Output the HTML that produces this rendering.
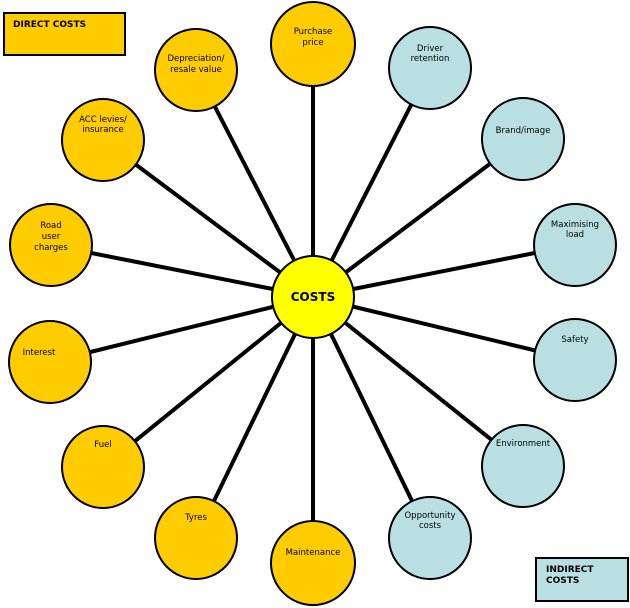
<!DOCTYPE html>
<html><head><style>body{margin:0;background:#fff}svg{display:block}</style></head><body>
<svg width="630" height="608" viewBox="0 0 630 608" xmlns="http://www.w3.org/2000/svg" font-family="DejaVu Sans, Liberation Sans, sans-serif" font-size="8.5">
<g stroke="#000" stroke-width="4">
<line x1="313" y1="297" x2="313" y2="44"/>
<line x1="313" y1="297" x2="196" y2="70"/>
<line x1="313" y1="297" x2="430" y2="68"/>
<line x1="313" y1="297" x2="103" y2="140"/>
<line x1="313" y1="297" x2="523" y2="139"/>
<line x1="313" y1="297" x2="51" y2="245"/>
<line x1="313" y1="297" x2="575" y2="245"/>
<line x1="313" y1="297" x2="50" y2="362"/>
<line x1="313" y1="297" x2="575" y2="360"/>
<line x1="313" y1="297" x2="103" y2="467"/>
<line x1="313" y1="297" x2="523" y2="465"/>
<line x1="313" y1="297" x2="196" y2="538"/>
<line x1="313" y1="297" x2="430" y2="538"/>
<line x1="313" y1="297" x2="313" y2="563"/>
</g>
<g stroke="#000" stroke-width="2" fill="#FFCC00">
<circle cx="313" cy="44" r="42"/>
<circle cx="196" cy="70" r="41"/>
<circle cx="103" cy="140" r="41"/>
<circle cx="51" cy="245" r="41"/>
<circle cx="50" cy="362" r="41"/>
<circle cx="103" cy="467" r="41"/>
<circle cx="196" cy="538" r="41"/>
<circle cx="313" cy="563" r="42"/>
</g>
<g stroke="#000" stroke-width="2" fill="#B9DFE2">
<circle cx="430" cy="68" r="41"/>
<circle cx="523" cy="139" r="41"/>
<circle cx="575" cy="245" r="41"/>
<circle cx="575" cy="360" r="41"/>
<circle cx="523" cy="466" r="41"/>
<circle cx="430" cy="538" r="41"/>
</g>
<circle cx="313" cy="297" r="41" fill="#FFFF00" stroke="#000" stroke-width="2"/>
<rect x="4" y="13" width="121" height="42" fill="#FFCC00" stroke="#000" stroke-width="2"/>
<rect x="536" y="558" width="92" height="43" fill="#B9DFE2" stroke="#000" stroke-width="2"/>
<g font-weight="bold" font-size="9">
<text x="13" y="27">DIRECT COSTS</text>
<text x="546" y="572">INDIRECT</text>
<text x="546" y="583">COSTS</text>
</g>
<text x="313" y="301" font-weight="bold" font-size="12" text-anchor="middle">COSTS</text>
<g text-anchor="middle">
<text x="313" y="34">Purchase</text><text x="313" y="45">price</text>
<text x="196" y="61">Depreciation/</text><text x="196" y="72">resale value</text>
<text x="430" y="51">Driver</text><text x="430" y="61">retention</text>
<text x="103" y="122">ACC levies/</text><text x="103" y="132">insurance</text>
<text x="523" y="133">Brand/image</text>
<text x="51" y="228">Road</text><text x="51" y="239">user</text><text x="51" y="250">charges</text>
<text x="575" y="227">Maximising</text><text x="575" y="237">load</text>
<text x="39" y="355">Interest</text>
<text x="575" y="342">Safety</text>
<text x="103" y="447">Fuel</text>
<text x="523" y="446">Environment</text>
<text x="196" y="520">Tyres</text>
<text x="430" y="518">Opportunity</text><text x="430" y="528">costs</text>
<text x="313" y="555">Maintenance</text>
</g>
</svg>
</body></html>
